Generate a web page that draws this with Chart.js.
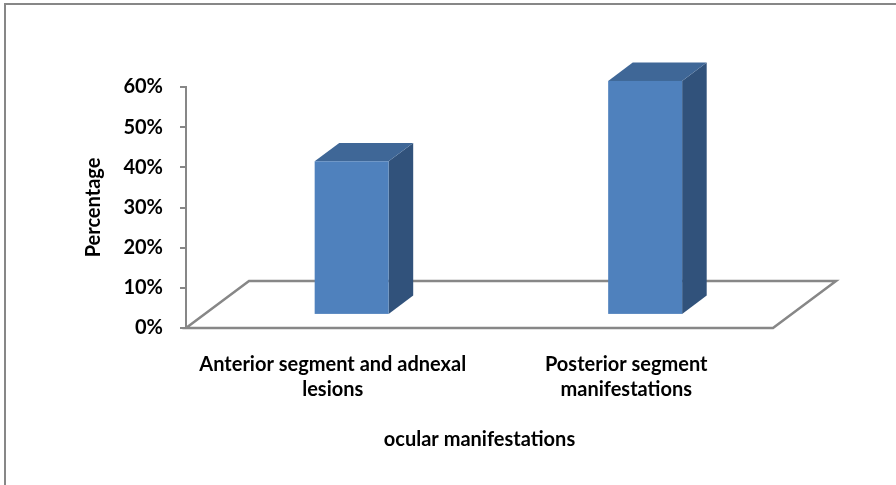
<!DOCTYPE html>
<html>
<head>
<meta charset="utf-8">
<title>Ocular manifestations</title>
<script src="https://cdn.jsdelivr.net/npm/chart.js@4.4.1/dist/chart.umd.min.js"></script>
<style>
    html, body { margin: 0; padding: 0; background: #fff; }
    canvas { display: block; }
</style>
</head>
<body>
<canvas id="manifestChart" width="896" height="485"></canvas>
<script>
const categories = [
    ["Anterior segment and adnexal", "lesions"],
    ["Posterior segment", "manifestations"]
];
const percentages = [38, 58];
const yMin = 0;
const yMax = 60;
const yStep = 10;

const fontFamily = "Lato, 'Open Sans', sans-serif";
const fontSize = 20;
const lineGrey = "#878787";

// 3d look: floor depth vector and where the boxes sit on it
const floorDepth = { dx: 63, dy: -47 };
const boxFront = 0.3;
const boxDepth = 0.39;

const faceColors = {
    front: "#4f81bd",
    top: "#3f6797",
    side: "#31527b"
};

const frame3d = {
    id: "frame3d",
    beforeDraw(chart) {
        const ctx = chart.ctx;
        ctx.save();
        ctx.fillStyle = lineGrey;
        ctx.fillRect(4, 3, chart.width - 4, 2);
        ctx.fillRect(4, 3, 2, chart.height - 3);
        ctx.restore();
    },
    afterDatasetsDraw(chart) {
        const ctx = chart.ctx;
        const area = chart.chartArea;
        const y = chart.scales.y;
        const { dx, dy } = floorDepth;

        // floor outline
        ctx.save();
        ctx.strokeStyle = lineGrey;
        ctx.lineWidth = 2.5;
        ctx.beginPath();
        ctx.moveTo(area.left, area.bottom);
        ctx.lineTo(area.right, area.bottom);
        ctx.lineTo(area.right + dx, area.bottom + dy);
        ctx.lineTo(area.left + dx, area.bottom + dy);
        ctx.closePath();
        ctx.stroke();
        ctx.restore();

        // boxes
        const meta = chart.getDatasetMeta(0);
        const fx = dx * boxFront, fy = dy * boxFront;
        const bx = dx * boxDepth, by = dy * boxDepth;
        meta.data.forEach((bar, i) => {
            const v = chart.data.datasets[0].data[i];
            const x0 = bar.x - bar.width / 2 + fx;
            const x1 = bar.x + bar.width / 2 + fx;
            const yb = y.getPixelForValue(0) + fy;
            const yt = y.getPixelForValue(v) + fy;

            ctx.save();
            // side
            ctx.fillStyle = faceColors.side;
            ctx.beginPath();
            ctx.moveTo(x1, yt);
            ctx.lineTo(x1 + bx, yt + by);
            ctx.lineTo(x1 + bx, yb + by);
            ctx.lineTo(x1, yb);
            ctx.closePath();
            ctx.fill();
            // top
            ctx.fillStyle = faceColors.top;
            ctx.beginPath();
            ctx.moveTo(x0, yt);
            ctx.lineTo(x0 + bx, yt + by);
            ctx.lineTo(x1 + bx, yt + by);
            ctx.lineTo(x1, yt);
            ctx.closePath();
            ctx.fill();
            // front
            ctx.fillStyle = faceColors.front;
            ctx.fillRect(x0, yt, x1 - x0, yb - yt);
            ctx.restore();
        });
    }
};

const ctx = document.getElementById("manifestChart").getContext("2d");

const manifestChart = new Chart(ctx, {
    type: "bar",
    data: {
        labels: categories,
        datasets: [{
            label: "Percentage",
            data: percentages,
            backgroundColor: "rgba(0,0,0,0)",
            borderWidth: 0,
            categoryPercentage: 1,
            barPercentage: 0.252
        }]
    },
    options: {
        responsive: false,
        animation: false,
        events: [],
        layout: {
            padding: { left: 0, right: 123, top: 87, bottom: 0 }
        },
        plugins: {
            legend: { display: false },
            tooltip: { enabled: false }
        },
        scales: {
            x: {
                grid: { display: false, drawTicks: false },
                border: { display: false },
                ticks: {
                    color: "#000",
                    padding: 24,
                    maxRotation: 0,
                    autoSkip: false,
                    font: { family: fontFamily, size: fontSize, weight: "bold", lineHeight: "25px" }
                },
                title: {
                    display: true,
                    text: "ocular manifestations",
                    color: "#000",
                    padding: { top: 0, bottom: 33 },
                    font: { family: fontFamily, size: fontSize, weight: "bold", lineHeight: 1.2 }
                },
                afterFit(scale) { scale.height = 157; }
            },
            y: {
                min: yMin,
                max: yMax,
                grid: {
                    display: true,
                    drawOnChartArea: false,
                    drawTicks: true,
                    tickLength: 6,
                    color: lineGrey,
                    lineWidth: 2
                },
                border: { display: true, color: lineGrey, width: 2 },
                ticks: {
                    stepSize: yStep,
                    color: "#000",
                    padding: 17,
                    font: { family: fontFamily, size: fontSize, weight: "bold" },
                    callback: (v) => v + "%"
                },
                title: {
                    display: true,
                    text: "Percentage",
                    color: "#000",
                    padding: { top: 82, bottom: 0 },
                    font: { family: fontFamily, size: fontSize, weight: "bold", lineHeight: 1.2 }
                },
                afterFit(scale) { scale.width = 186; }
            }
        }
    },
    plugins: [frame3d]
});
</script>
</body>
</html>
